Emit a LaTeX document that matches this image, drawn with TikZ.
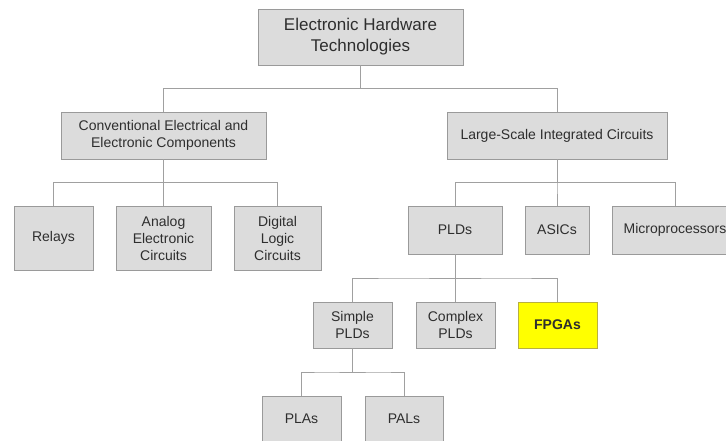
\documentclass[tikz,border=0pt]{standalone}
\usepackage{fontspec}
\setmainfont{Liberation Sans}
\usetikzlibrary{calc}
\definecolor{boxfill}{HTML}{DCDCDC}
\definecolor{boxline}{HTML}{9A9A9A}
\definecolor{linkline}{HTML}{A0A0A0}
\definecolor{textgray}{HTML}{2E2E2E}
\definecolor{fpgafill}{HTML}{FFFF00}
\definecolor{fpgaline}{HTML}{B8B040}

\begin{document}
\begin{tikzpicture}
[x=10pt,y=-10pt,
 box/.style={rectangle,draw=boxline,fill=boxfill,text=textgray,inner sep=0pt,align=center,font=\fontsize{14}{17}\selectfont},
 topbox/.style={box,font=\fontsize{17}{21}\selectfont},
 hot/.style={box,fill=fpgafill,draw=fpgaline,font=\fontsize{14}{17}\selectfont\bfseries},
 elbow/.style={draw=linkline,line width=0.9pt,to path={|- ($(\tikztostart)!.5!(\tikztotarget)$) -| (\tikztotarget)}}]
\fill[white] (0,0) rectangle (72.6,44.1);
\useasboundingbox (0,0) rectangle (72.6,44.1);
% top level
\node[topbox,minimum width=205pt,minimum height=56pt] (EHT) at (36.05, 3.7) {Electronic Hardware\\Technologies};
% second level
\node[box,minimum width=205pt,minimum height=47pt] (CEC) at (16.35,13.55) {Conventional Electrical and\\Electronic Components};
\node[box,minimum width=220pt,minimum height=47pt] (LSI) at (55.7, 13.55) {Large-Scale Integrated Circuits};
% third level
\node[box,minimum width=79pt,minimum height=64pt] (Relays)  at ( 5.35,23.8) {Relays};
\node[box,minimum width=95pt,minimum height=64pt] (Analog)  at (16.35,23.8) {Analog\\Electronic\\Circuits};
\node[box,minimum width=87pt,minimum height=64pt] (Digital) at (27.75,23.8) {Digital\\Logic\\Circuits};
\node[box,minimum width=94pt,minimum height=48pt] (PLDs)    at (45.5, 23.0) {PLDs};
\node[box,minimum width=64pt,minimum height=48pt] (ASICs)   at (55.7, 23.0) {ASICs};
\node[box,minimum width=126pt,minimum height=48pt] (Micro)  at (67.5, 23.0) {Microprocessors};
% fourth level
\node[box,minimum width=79pt,minimum height=46pt] (SPLD) at (35.25,32.5) {Simple\\PLDs};
\node[box,minimum width=79pt,minimum height=46pt] (CPLD) at (45.55,32.5) {Complex\\PLDs};
\node[hot,minimum width=79pt,minimum height=46pt] (FPGA) at (55.75,32.5) {FPGAs};
% fifth level
\node[box,minimum width=79pt,minimum height=46pt] (PLA) at (30.15,41.9) {PLAs};
\node[box,minimum width=78pt,minimum height=46pt] (PAL) at (40.4, 41.9) {PALs};
\path (EHT.south)  edge[elbow] (CEC.north)
                   edge[elbow] (LSI.north)
      (CEC.south)  edge[elbow] (Relays.north)
                   edge[elbow] (Analog.north)
                   edge[elbow] (Digital.north)
      (LSI.south)  edge[elbow] (PLDs.north)
                   edge[elbow] (ASICs.north)
                   edge[elbow] (Micro.north)
      (PLDs.south) edge[elbow] (SPLD.north)
                   edge[elbow] (CPLD.north)
                   edge[elbow] (FPGA.north)
      (SPLD.south) edge[elbow] (PLA.north)
                   edge[elbow] (PAL.north);
\end{tikzpicture}
\end{document}
